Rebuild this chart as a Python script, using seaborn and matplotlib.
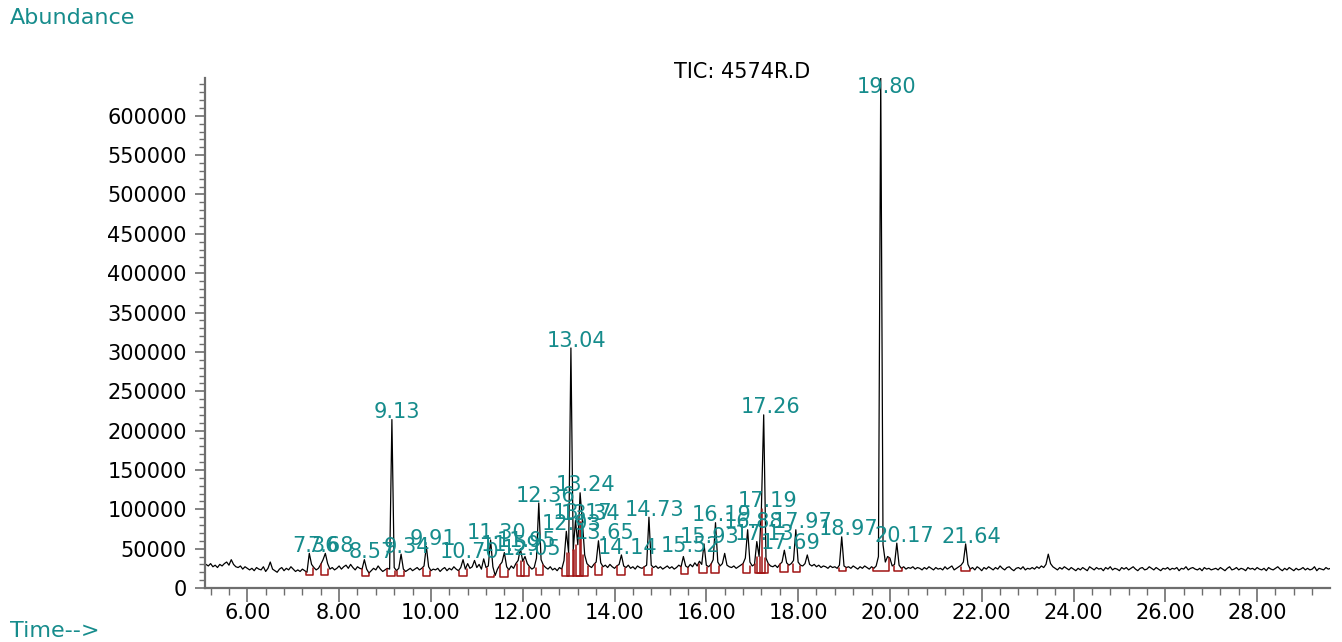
import numpy as np
import pandas as pd
import matplotlib
matplotlib.use("Agg")
import matplotlib.pyplot as plt
import seaborn as sns
from matplotlib.ticker import FixedLocator, MultipleLocator, FuncFormatter

# ---------------- data ----------------
t0 = 5.10          # first sample time (min)
dt = 0.05          # sampling step (min)
# total ion current, in thousands of counts, one row per minute (5.10 ... 29.60)
tic_k = [
    30, 28, 31, 27, 29, 26, 30, 28, 31, 33, 29, 36, 30, 27, 26, 28, 24, 27, 25, 23,
    25, 22, 26, 24, 23, 27, 21, 25, 33, 24, 22, 20, 24, 26, 22, 25, 23, 27, 24, 21,
    23, 21, 24, 22, 20, 44, 30, 26, 23, 25, 30, 36, 44, 31, 24, 26, 23, 25, 28, 24,
    27, 29, 25, 30, 26, 23, 27, 25, 24, 36, 24, 19, 22, 25, 23, 28, 24, 21, 23, 25,
    24, 214, 26, 22, 25, 43, 24, 21, 23, 25, 22, 24, 26, 23, 25, 28, 53, 27, 22, 24,
    23, 25, 21, 24, 26, 22, 25, 23, 27, 24, 22, 26, 36, 24, 31, 25, 27, 35, 26, 30,
    24, 37, 26, 28, 61, 27, 16, 24, 29, 33, 45, 27, 23, 28, 25, 31, 35, 50, 34, 40,
    31, 27, 24, 26, 38, 108, 36, 29, 26, 24, 27, 23, 25, 22, 26, 24, 35, 72, 45, 305,
    48, 86, 55, 121, 84, 42, 31, 28, 26, 30, 33, 60, 32, 27, 29, 26, 30, 27, 25, 28,
    30, 42, 28, 26, 29, 25, 27, 24, 28, 26, 25, 27, 29, 90, 29, 26, 28, 25, 27, 24,
    26, 28, 25, 27, 24, 26, 29, 27, 40, 28, 26, 30, 27, 32, 28, 34, 30, 56, 29, 27,
    30, 36, 83, 33, 28, 31, 44, 29, 27, 26, 28, 25, 27, 29, 31, 38, 74, 33, 28, 30,
    59, 40, 101, 220, 38, 31, 28, 27, 29, 26, 30, 33, 48, 32, 29, 31, 35, 74, 33, 29,
    28, 31, 42, 30, 28, 30, 27, 29, 26, 28, 27, 25, 28, 26, 27, 25, 29, 65, 28, 26,
    27, 25, 28, 26, 24, 27, 25, 28, 26, 24, 27, 25, 28, 40, 648, 55, 33, 40, 38, 28,
    30, 57, 29, 25, 27, 24, 26, 25, 27, 24, 26, 25, 23, 26, 24, 27, 25, 23, 26, 24,
    25, 23, 27, 24, 26, 28, 23, 25, 27, 29, 33, 56, 30, 24, 26, 23, 27, 25, 22, 26,
    24, 27, 25, 23, 26, 24, 28, 25, 23, 26, 27, 24, 22, 25, 26, 24, 27, 23, 25, 24,
    26, 24, 27, 25, 28, 26, 30, 43, 31, 27, 25, 23, 26, 24, 27, 25, 23, 26, 24, 22,
    25, 23, 26, 24, 22, 27, 25, 23, 26, 24, 25, 22, 26, 24, 27, 23, 25, 24, 22, 26,
    24, 26, 23, 25, 27, 24, 22, 25, 26, 23, 24, 27, 25, 23, 26, 24, 22, 25, 24, 26,
    23, 25, 24, 26, 22, 25, 24, 27, 23, 25, 26, 24, 23, 25, 22, 26, 24, 25, 23, 24,
    25, 23, 26, 24, 22, 25, 27, 23, 24, 26, 23, 25, 24, 22, 26, 24, 25, 23, 26, 24,
    23, 25, 22, 26, 24, 23, 25, 27, 24, 22, 25, 23, 26, 24, 22, 25, 23, 24, 26, 23,
    25, 23, 24, 27, 22, 25, 24, 23, 26, 24, 25,
]

# integrated peaks: retention time, apex (k counts), integration baseline (k), width (min)
peak_rt = [7.36, 7.68, 8.57, 9.13, 9.34, 9.91, 10.70, 11.30, 11.59, 11.95, 12.05,
           12.36, 12.93, 13.04, 13.17, 13.24, 13.34, 13.65, 14.14, 14.73, 15.52,
           15.93, 16.19, 16.88, 17.13, 17.19, 17.26, 17.69, 17.97, 18.97, 19.80,
           20.17, 21.64]
peak_top_k = [44, 44, 36, 214, 43, 53, 36, 61, 45, 50, 40,
              108, 72, 305, 86, 121, 84, 60, 42, 90, 44,
              56, 83, 74, 59, 101, 220, 48, 74, 65, 648,
              57, 56]
peak_base_k = [16, 16, 15, 15, 15, 15, 15, 14, 14, 15, 15,
               16, 15, 15, 15, 15, 15, 16, 17, 17, 18,
               19, 19, 19, 19, 19, 19, 20, 20, 21, 22,
               22, 22]
peak_width = [0.16] * 30 + [0.34, 0.18, 0.2]

title_text = "TIC: 4574R.D"
ylabel_text = "Abundance"
xlabel_text = "Time-->"
x_major = [6, 8, 10, 12, 14, 16, 18, 20, 22, 24, 26, 28]

# ---------------- styling ----------------
sns.set_theme(style="ticks")
plt.rcParams['font.family'] = ['DejaVu Sans']

teal = "#168c8c"
red = "#a01414"
axis_gray = "#6e6e6e"
FS = 15

W, H = 1342, 642
fig = plt.figure(figsize=(W / 100, H / 100), dpi=100)
ax = fig.add_axes([205 / W, 1 - 588 / H, 1125 / W, 510 / H])

tic = np.array(tic_k, dtype=float) * 1000
times = t0 + dt * np.arange(len(tic))
df = pd.DataFrame({"time": times, "abundance": tic})
sns.lineplot(data=df, x="time", y="abundance", ax=ax, color="black",
             linewidth=0.9, estimator=None, sort=False)


def trace_at(t):
    # lower of the two samples that bracket time t
    i = int(np.floor((t - t0) / dt + 1e-9))
    i = max(0, min(i, len(tic) - 2))
    return min(tic[i], tic[i + 1])


# integration marks
rows = []
for k, (rt, base, w) in enumerate(zip(peak_rt, peak_base_k, peak_width)):
    s, e = rt - w / 2, rt + w / 2
    base = base * 1000
    rows += [(k, s, trace_at(s)), (k, s, base), (k, e, base), (k, e, trace_at(e))]
rdf = pd.DataFrame(rows, columns=["peak", "time", "abundance"])
sns.lineplot(data=rdf, x="time", y="abundance", units="peak", estimator=None,
             sort=False, color=red, linewidth=1.1, ax=ax)

ymax = 648000
xmin, xmax = 5.078, 29.588
ax.set_xlim(xmin, xmax)
ax.set_ylim(0, ymax)

# peak labels
cap = ymax * 0.967
for rt, top in zip(peak_rt, peak_top_k):
    ax.annotate(f"{rt:.2f}", xy=(rt, min(top * 1000, cap)), xytext=(4.5, 1),
                textcoords="offset points", ha="center", va="baseline",
                color=teal, fontsize=FS, annotation_clip=False)

ax.set_xlabel("")
ax.set_ylabel("")
ax.xaxis.set_major_locator(FixedLocator(x_major))
ax.xaxis.set_major_formatter(FuncFormatter(lambda v, p: f"{v:.2f}"))
ax.xaxis.set_minor_locator(MultipleLocator(0.4))
ax.yaxis.set_major_locator(MultipleLocator(50000))
ax.yaxis.set_major_formatter(FuncFormatter(lambda v, p: f"{int(round(v))}"))
ax.yaxis.set_minor_locator(MultipleLocator(10000))

for side in ("top", "right"):
    ax.spines[side].set_visible(False)
for side in ("left", "bottom"):
    ax.spines[side].set_color(axis_gray)
    ax.spines[side].set_linewidth(1.6)

ax.tick_params(axis="y", which="major", length=7, width=1.2, color=axis_gray,
               labelsize=FS, labelcolor="black", pad=6)
ax.tick_params(axis="y", which="minor", length=4, width=1.0, color=axis_gray)
ax.tick_params(axis="x", which="major", length=10, width=1.2, color=axis_gray,
               labelsize=FS, labelcolor="black", pad=1)
ax.tick_params(axis="x", which="minor", length=5, width=1.0, color=axis_gray)
ax.set_facecolor("white")
ax.grid(False)

fig.text(10 / W, 1 - 18 / H, ylabel_text, color=teal, fontsize=16,
         ha="left", va="center")
fig.text(10 / W, 1 - 631 / H, xlabel_text, color=teal, fontsize=16,
         ha="left", va="center")
fig.text(742 / W, 1 - 72 / H, title_text, color="black", fontsize=FS,
         ha="center", va="center")

fig.savefig("out.png", dpi=100, facecolor="white")
